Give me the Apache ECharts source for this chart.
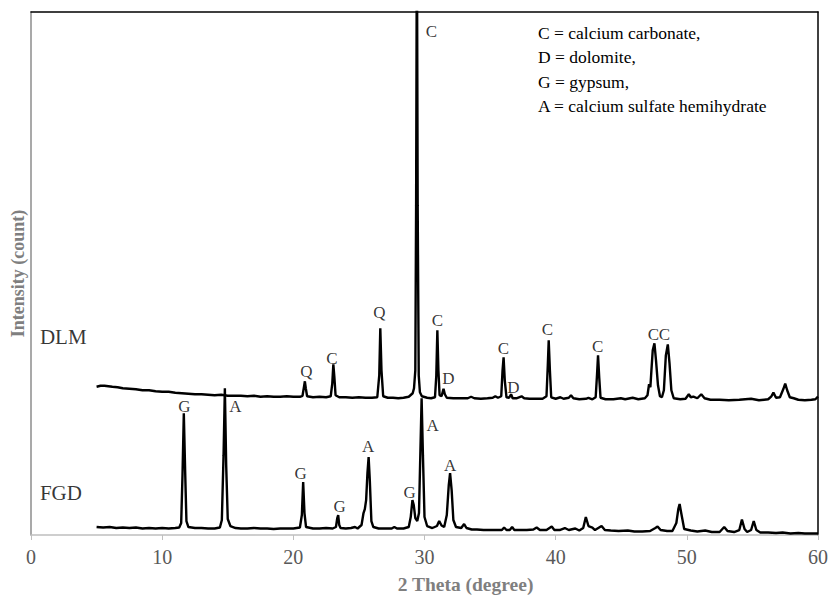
<!DOCTYPE html>
<html>
<head>
<meta charset="utf-8">
<script src="https://cdn.jsdelivr.net/npm/echarts@6/dist/echarts.min.js"></script>
<style>
html,body{margin:0;padding:0;background:#fff;}
#chart{width:831px;height:599px;}
</style>
</head>
<body>
<div id="chart"></div>
<script>
// XRD pattern of DLM (offset upward), [2theta, intensity]
const dlmPattern = [
[5.0,148.5],[5.3,149.5],[5.6,149.5],[5.9,149],[6.2,148.5],[6.6,148],[7.0,147],[7.5,146.5],[8.0,146],[8.5,145],
[9.0,145],[9.5,144],[10.0,143.5],[10.5,143.5],[11.0,142.5],[11.5,142],[12.0,141.5],[12.5,141],[13.0,141],[13.5,140.5],
[14.0,140],[14.5,140.5],[15.0,139.5],[15.5,139.5],[16.0,139.5],[16.5,139],[17.0,139.5],[17.5,138.5],[18.0,139],[18.5,138.5],
[19.0,138.5],[19.5,139],[20.0,138.5],[20.5,138.5],[20.7,139.5],[20.82,149],[20.88,154],[20.95,147],[21.05,139],[21.5,138],
[22.0,138.5],[22.5,138],[22.85,139],[22.97,152],[23.05,171],[23.13,158],[23.22,140],[23.5,138],[24.0,138],[24.5,137.5],
[25.0,138],[25.5,137.5],[26.0,137.5],[26.4,138],[26.55,160],[26.63,207],[26.72,165],[26.85,139],[27.2,137.5],[27.6,137.5],
[28.0,137],[28.4,137.5],[28.8,138.5],[29.1,142],[29.2,147],[29.3,165],[29.36,330],[29.42,620],[29.48,330],[29.56,160],
[29.65,143],[29.8,139],[30.2,137.5],[30.5,137],[30.8,138],[30.9,160],[30.98,205],[31.06,165],[31.15,140],[31.3,139],
[31.45,146.5],[31.55,141],[31.7,137.5],[32.2,137],[32.8,137],[33.3,137],[33.55,138.5],[33.8,137],[34.3,136.5],[34.8,137],
[35.2,137.5],[35.4,139],[35.6,137.5],[35.85,139],[35.95,165],[36.03,178],[36.12,155],[36.25,138],[36.45,137.5],[36.6,141],
[36.72,137],[37.0,137],[37.4,139],[37.6,137],[38.0,136.5],[38.5,136.5],[39.0,136.5],[39.3,139],[39.4,170],[39.47,195],
[39.56,165],[39.66,138],[40.0,136.5],[40.36,138],[40.6,136.5],[41.0,137.5],[41.17,140],[41.35,137],[41.8,136],[42.3,136.5],
[42.5,137.5],[42.8,136],[43.05,138],[43.15,160],[43.23,180],[43.32,158],[43.42,137.5],[43.8,136],[44.4,136],[44.97,137],
[45.3,136],[45.87,137.5],[46.3,136],[46.8,137],[47.0,140],[47.12,151],[47.22,148],[47.3,165],[47.4,185],[47.53,192],
[47.65,175],[47.8,150],[47.95,139],[48.1,138],[48.25,145],[48.4,180],[48.55,191],[48.68,172],[48.82,145],[49.0,137],
[49.5,136],[49.9,136.5],[50.15,141],[50.3,138],[50.5,138.7],[50.8,137],[51.1,141],[51.35,137],[51.8,135.5],[52.5,135.5],
[53.2,135],[54.0,135.5],[54.9,136.5],[55.5,135],[56.2,136],[56.45,139],[56.6,142.7],[56.8,137.5],[57.1,138],[57.35,146],
[57.5,151.7],[57.65,145],[57.85,138],[58.15,137],[58.5,135.5],[59.0,135],[59.5,135.5],[59.8,136],[60.0,138.7]
];

// XRD pattern of FGD, [2theta, intensity]
const fgdPattern = [
[5.0,8],[5.5,7.5],[6.0,8],[6.5,7],[7.0,7.5],[7.5,7],[8.0,7.5],[8.5,6.5],[9.0,7],[9.5,6.5],
[10.0,7],[10.5,6.5],[11.0,7],[11.3,7.5],[11.45,12],[11.55,60],[11.65,122],[11.75,65],[11.85,14],[12.0,8],
[12.5,7],[13.0,7],[13.5,6.5],[14.0,6.5],[14.4,7.5],[14.55,15],[14.68,80],[14.78,147],[14.88,70],[15.0,16],
[15.2,9],[15.6,7],[16.0,6.5],[16.5,6.5],[17.0,7],[17.5,6.5],[18.0,6.5],[18.5,6],[19.0,6.5],[19.5,6.5],
[20.0,6.5],[20.5,7.5],[20.65,20],[20.75,53],[20.85,22],[20.97,8],[21.5,6.5],[22.0,6.5],[22.5,7],[23.0,6.5],
[23.25,8],[23.35,17],[23.42,20],[23.5,10],[23.6,7],[24.0,6.5],[24.4,7],[24.7,8],[24.9,6.5],[25.2,10],
[25.35,22],[25.45,26],[25.55,35],[25.65,62],[25.74,78],[25.83,55],[25.95,14],[26.1,8],[26.5,6.5],[27.0,6.5],
[27.5,6.5],[27.7,8],[27.9,6.5],[28.4,6.5],[28.8,8],[28.95,18],[29.08,35],[29.18,30],[29.3,17],[29.45,14],
[29.58,22],[29.68,80],[29.78,137],[29.88,80],[30.0,18],[30.2,9],[30.6,7],[30.95,9],[31.12,14],[31.3,9.5],
[31.5,8],[31.7,20],[31.85,50],[31.95,62],[32.07,45],[32.2,15],[32.4,8],[32.8,7],[33.02,11],[33.2,7],
[33.6,5.5],[34.0,5.5],[34.5,5],[35.0,5],[35.5,5],[35.9,5],[36.07,7.5],[36.25,5],[36.5,5],[36.68,8],
[36.85,5],[37.3,5],[37.8,5],[38.3,5.5],[38.55,7.5],[38.8,5],[39.3,5],[39.7,8.5],[39.9,5],[40.3,5],
[40.7,7],[41.0,5],[41.5,6.5],[41.8,4.5],[42.1,7],[42.3,18],[42.5,9],[42.8,7.5],[43.0,5],[43.5,9],
[43.75,5],[44.2,4.5],[44.8,4],[45.5,4.5],[46.0,3.5],[46.6,3.5],[47.2,4],[47.6,7],[47.77,8.5],[48.0,5],
[48.5,4],[48.9,4],[49.2,12],[49.35,26],[49.45,31],[49.6,20],[49.8,6],[50.3,4.5],[50.8,3.5],[51.4,4.5],
[51.9,3],[52.5,3],[52.85,8],[53.1,4],[53.6,3],[54.0,5],[54.2,15.5],[54.4,6],[54.6,3],[54.9,5],
[55.1,14],[55.3,5],[55.6,2.5],[56.2,2.5],[56.8,2],[57.3,2.5],[57.9,1.5],[58.5,2],[59.0,1.5],[59.5,1.5],[60.0,1.5]
];

// Peak annotations
const dlmPeakText  = ['Q','C','Q','C','C','D','C','D','C','C','C','C'];
const dlmPeakTheta = [20.99,22.94,26.57,30.53,30.99,31.83,36.02,36.78,39.37,43.2,47.45,48.3];
const dlmPeakY     = [164,177,223,504,215,157,187,148,206,189,201,201];
const fgdPeakText  = ['G','A','G','G','A','G','A','A'];
const fgdPeakTheta = [11.7,15.59,20.56,23.53,25.71,28.86,30.63,31.96];
const fgdPeakY     = [129,129,62,29,89,43,110,70];

// Sample names
const sampleNames = ['DLM','FGD'];
const sampleTheta = [0.68,0.68];
const sampleY     = [198,42];

const legendLines = ['C = calcium carbonate,','D = dolomite,','G = gypsum,','A = calcium sulfate hemihydrate'];

const xTicks = {min:0,max:60,interval:10};
const yRange = {min:0,max:524};

const serif = '"Liberation Serif","Times New Roman",serif';

function labelData(texts, xs, ys){
  return texts.map((t,i)=>({value:[xs[i],ys[i]], name:t}));
}

const chart = echarts.init(document.getElementById('chart'), null, {renderer:'svg'});
chart.setOption({
  animation:false,
  backgroundColor:'#fff',
  grid:{left:31,right:12,top:12,bottom:63,containLabel:false},
  title:{
    text: legendLines.join('\n'),
    left:538, top:21, padding:0,
    textStyle:{fontFamily:serif,fontSize:17.5,fontWeight:'normal',color:'#000',lineHeight:24.3}
  },
  xAxis:[{
    type:'value', min:xTicks.min, max:xTicks.max, interval:xTicks.interval,
    name:'2 Theta (degree)', nameLocation:'middle', nameGap:39,
    nameTextStyle:{fontFamily:serif,fontSize:19.5,fontWeight:'bold',color:'#7f7f7f',padding:[0,0,0,82]},
    axisLine:{show:true,lineStyle:{color:'#bfbfbf',width:1.5}},
    axisTick:{show:true,inside:false,length:5,lineStyle:{color:'#bfbfbf'}},
    axisLabel:{fontFamily:serif,fontSize:20,color:'#595959',margin:12},
    splitLine:{show:false}
  },{
    type:'value', position:'top', min:xTicks.min, max:xTicks.max,
    axisLine:{show:true,onZero:false,lineStyle:{color:'#000',width:1.5}},
    axisTick:{show:false}, axisLabel:{show:false}, splitLine:{show:false}
  }],
  yAxis:[{
    type:'value', min:yRange.min, max:yRange.max,
    name:'Intensity (count)', nameLocation:'middle', nameGap:4,
    nameTextStyle:{fontFamily:serif,fontSize:18,fontWeight:'bold',color:'#7f7f7f'},
    axisLine:{show:true,lineStyle:{color:'#8c8c8c',width:1.5}},
    axisTick:{show:false}, axisLabel:{show:false}, splitLine:{show:false}
  },{
    type:'value', position:'right', min:yRange.min, max:yRange.max,
    axisLine:{show:true,onZero:false,lineStyle:{color:'#000',width:1.5}},
    axisTick:{show:false}, axisLabel:{show:false}, splitLine:{show:false}
  }],
  series:[
    {type:'line', name:'DLM', data:dlmPattern, showSymbol:false, symbol:'none',
     lineStyle:{color:'#000',width:2.4}, clip:true, z:3},
    {type:'line', name:'FGD', data:fgdPattern, showSymbol:false, symbol:'none',
     lineStyle:{color:'#000',width:2.4}, clip:true, z:3},
    {type:'scatter', symbolSize:0, silent:true, z:5,
     data: labelData(dlmPeakText, dlmPeakTheta, dlmPeakY).concat(labelData(fgdPeakText, fgdPeakTheta, fgdPeakY)),
     label:{show:true, position:'inside', formatter:p=>p.name, fontFamily:serif, fontSize:17, color:'#000'}},
    {type:'scatter', symbolSize:0, silent:true, z:5,
     data: labelData(sampleNames, sampleTheta, sampleY),
     label:{show:true, position:[0,0], align:'left', verticalAlign:'middle', formatter:p=>p.name, fontFamily:serif, fontSize:21, color:'#000'}}
  ]
});
</script>
</body>
</html>
